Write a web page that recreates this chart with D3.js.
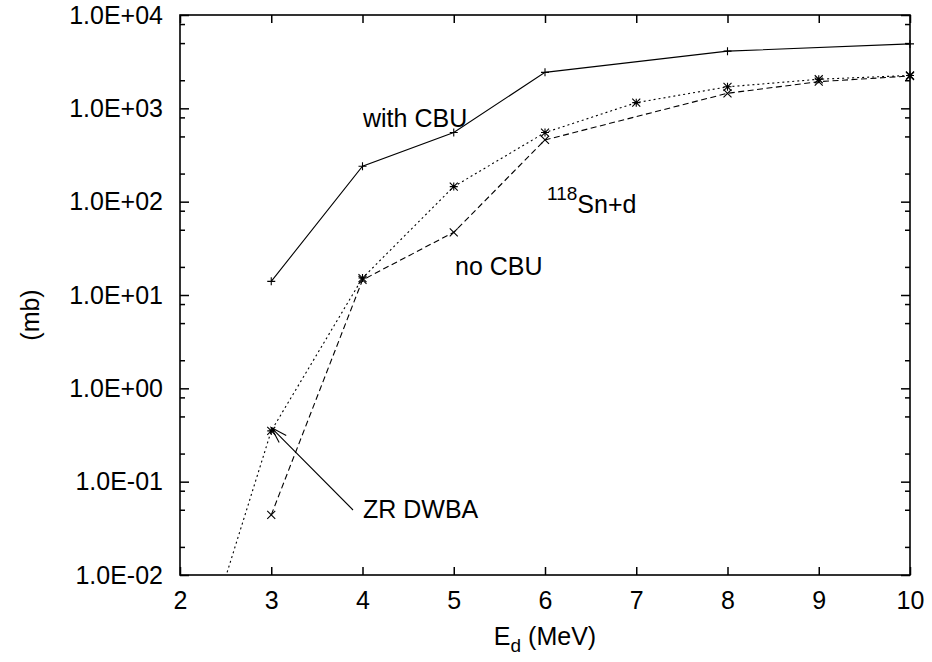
<!DOCTYPE html>
<html>
<head>
<meta charset="utf-8">
<script src="https://cdn.jsdelivr.net/npm/d3@7"></script>
<style>
  html, body { margin: 0; padding: 0; background: #fff; }
  svg { display: block; font-family: "Liberation Sans", Arial, Helvetica, sans-serif; }
</style>
</head>
<body>
<svg id="chart" width="932" height="662"></svg>
<script>
// ---- data ----
const xTicks = [2, 3, 4, 5, 6, 7, 8, 9, 10];
const yTicks = [1e-2, 1e-1, 1e0, 1e1, 1e2, 1e3, 1e4];
const yTickLabels = ["1.0E-02", "1.0E-01", "1.0E+00", "1.0E+01", "1.0E+02", "1.0E+03", "1.0E+04"];
const minorMantissas = [2, 5, 8];

const withCbuE = [3, 4, 5, 6, 8, 10];
const withCbuSigma = [14, 240, 550, 2430, 4100, 4900];

const zrE = [2.5, 3, 4, 5, 6, 7, 8, 9, 10];
const zrSigma = [0.0095, 0.35, 15.2, 145, 550, 1150, 1700, 2050, 2250];

const noCbuE = [3, 4, 5, 6, 8, 9, 10];
const noCbuSigma = [0.044, 14.5, 47, 458, 1450, 1930, 2220];

// ---- layout ----
const W = 932, H = 662;
const L = 180, R = 910, T = 15, B = 575;
const svg = d3.select("#chart");

const x = d3.scaleLinear().domain([2, 10]).range([L, R]);
const y = d3.scaleLog().domain([1e-2, 1e4]).range([B, T]);

const minorVals = [];
for (let e = -2; e < 4; e++) for (const m of minorMantissas) minorVals.push(m * Math.pow(10, e));

const tickFont = 25;

// clip
svg.append("defs").append("clipPath").attr("id", "plotclip")
  .append("rect").attr("x", L).attr("y", T).attr("width", R - L).attr("height", B - T);

// axes
function styleAxis(g) {
  g.select(".domain").remove();
  g.selectAll("line").attr("stroke", "#000").attr("stroke-width", 1.5);
  g.selectAll("text").attr("fill", "#000").style("font-size", tickFont + "px");
}

svg.append("g").attr("transform", `translate(0,${B})`)
  .call(d3.axisBottom(x).tickValues(xTicks).tickSize(-8).tickPadding(16).tickFormat(d3.format("d")))
  .call(styleAxis)
  .call(g => g.selectAll("text").attr("dy", "0.71em"));

svg.append("g").attr("transform", `translate(0,${T})`)
  .call(d3.axisTop(x).tickValues(xTicks).tickSize(-8).tickFormat(""))
  .call(styleAxis);

svg.append("g").attr("transform", `translate(${L},0)`)
  .call(d3.axisLeft(y).tickValues(yTicks).tickSize(-9).tickPadding(17)
        .tickFormat((d, i) => yTickLabels[i]))
  .call(styleAxis);

svg.append("g").attr("transform", `translate(${L},0)`)
  .call(d3.axisLeft(y).tickValues(minorVals).tickSize(-5).tickFormat(""))
  .call(styleAxis);

svg.append("g").attr("transform", `translate(${R},0)`)
  .call(d3.axisRight(y).tickValues(yTicks).tickSize(-9).tickFormat(""))
  .call(styleAxis);

svg.append("g").attr("transform", `translate(${R},0)`)
  .call(d3.axisRight(y).tickValues(minorVals).tickSize(-5).tickFormat(""))
  .call(styleAxis);

// frame
svg.append("rect").attr("x", L).attr("y", T).attr("width", R - L).attr("height", B - T)
  .attr("fill", "none").attr("stroke", "#000").attr("stroke-width", 1.6);

// series
const line = d3.line().x(d => x(d[0])).y(d => y(d[1]));
const plot = svg.append("g").attr("clip-path", "url(#plotclip)");

function series(E, S, dash, marker) {
  const pts = E.map((e, i) => [e, S[i]]);
  plot.append("path").datum(pts).attr("d", line)
    .attr("fill", "none").attr("stroke", "#000").attr("stroke-width", 1.1)
    .attr("stroke-dasharray", dash);
  const s = 4;
  pts.filter(p => p[1] >= 1e-2 && p[1] <= 1e4).forEach(p => {
    const cx = x(p[0]), cy = y(p[1]);
    let d = "";
    if (marker === "plus" || marker === "star") d += `M${cx - s},${cy}H${cx + s}M${cx},${cy - s}V${cy + s}`;
    if (marker === "cross" || marker === "star") d += `M${cx - s},${cy - s}L${cx + s},${cy + s}M${cx - s},${cy + s}L${cx + s},${cy - s}`;
    svg.append("path").attr("d", d).attr("stroke", "#000").attr("stroke-width", 1.1).attr("fill", "none");
  });
}

series(withCbuE, withCbuSigma, null, "plus");
series(zrE, zrSigma, "2,3", "star");
series(noCbuE, noCbuSigma, "6,3.5", "cross");

// annotations
const annFont = 25;
function label(tx, ty, text) {
  return svg.append("text").attr("x", tx).attr("y", ty).style("font-size", annFont + "px").attr("fill", "#000").text(text);
}
label(363, 127, "with CBU");
label(455, 275, "no CBU");
label(363, 518, "ZR DWBA");
const sn = svg.append("text").attr("x", 547).attr("y", 213).attr("fill", "#000").style("font-size", annFont + "px");
sn.append("tspan").style("font-size", "19px").attr("dy", -13).text("118");
sn.append("tspan").attr("dy", 13).text("Sn+d");

// arrow to ZR DWBA point
const tail = [353, 510];
const tip = [x(3), y(0.38)];
const ang = Math.atan2(tail[1] - tip[1], tail[0] - tip[0]);
const hl = 17, spread = 17 * Math.PI / 180;
const h1 = [tip[0] + hl * Math.cos(ang + spread), tip[1] + hl * Math.sin(ang + spread)];
const h2 = [tip[0] + hl * Math.cos(ang - spread), tip[1] + hl * Math.sin(ang - spread)];
svg.append("path")
  .attr("d", `M${tail[0]},${tail[1]}L${tip[0]},${tip[1]}M${h1[0]},${h1[1]}L${tip[0]},${tip[1]}L${h2[0]},${h2[1]}`)
  .attr("stroke", "#000").attr("stroke-width", 1.1).attr("fill", "none");

// axis titles
const xt = svg.append("text").attr("x", 545).attr("y", 645).attr("text-anchor", "middle")
  .attr("fill", "#000").style("font-size", annFont + "px");
xt.append("tspan").text("E");
xt.append("tspan").style("font-size", "19px").attr("dy", 7).text("d");
xt.append("tspan").attr("dy", -7).text(" (MeV)");

svg.append("text").attr("transform", "translate(30,315) rotate(-90)").attr("text-anchor", "middle")
  .attr("dy", "0.35em").attr("fill", "#000").style("font-size", annFont + "px").text("(mb)");
</script>
</body>
</html>
